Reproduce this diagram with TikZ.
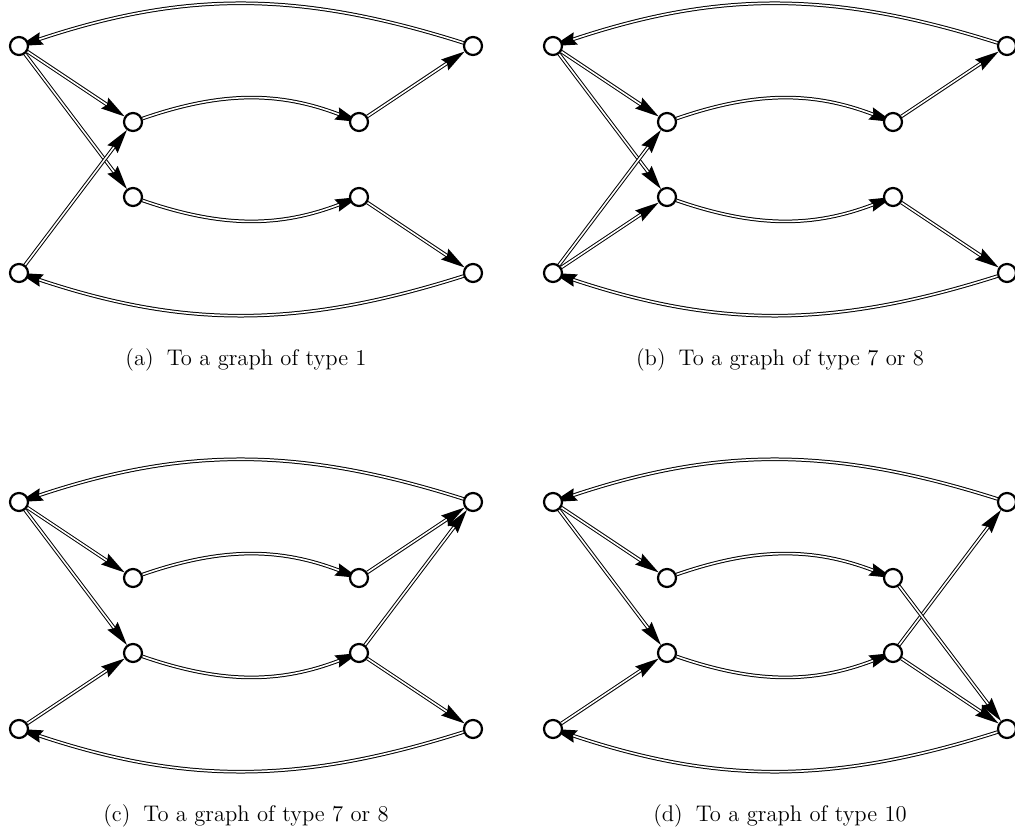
\documentclass[tikz,border=0pt]{standalone}
\usepackage{tikz}
\usetikzlibrary{arrows.meta}
\pgfdeclarelayer{edges}
\pgfsetlayers{edges,main}

\tikzset{
  vtx/.style={circle,draw,line width=1.1pt,fill=white,inner sep=0pt,minimum size=9pt},
  dbl/.style={double,line width=.5pt,double distance=.8pt,
    -{Stealth[length=12pt,width=6.5pt,inset=1.5pt,line width=0pt]}},
  captxt/.style={font=\fontsize{11.3}{14}\selectfont},
}
% the eight vertices and the edges every panel has
\newcommand\basegraph{
  \foreach \n/\x/\y in {tl/19/789,tr/473/789,ul/133/713,ur/359/713,
                        ll/133/638,lr/359/638,bl/19/562,br/473/562}
    \node[vtx] (\n) at (\x,\y) {};
  \begin{pgfonlayer}{edges}
    \draw[dbl] (tr) to[bend right=18] (tl);
    \draw[dbl] (br) to[bend left=18] (bl);
    \draw[dbl] (ul) to[bend left=20] (ur);
    \draw[dbl] (ll) to[bend right=20] (lr);
    \draw[dbl] (tl) -- (ul);
    \draw[dbl] (tl) -- (ll);
  \end{pgfonlayer}
}

\begin{document}
\begin{tikzpicture}[x=.5pt,y=.5pt]
  \useasboundingbox (0,0) rectangle (1015,835);
  \begin{scope}[name prefix=a-]
    \basegraph
    \begin{pgfonlayer}{edges}
      \foreach \s/\t in {bl/ul,ur/tr,lr/br}
        \draw[dbl] (\s) -- (\t);
    \end{pgfonlayer}
    \node[captxt] (cap) at (246,475) {(a)\hspace{6.5pt}To a graph of type 1};
  \end{scope}
  \begin{scope}[shift={(534,0)},name prefix=b-]
    \basegraph
    \begin{pgfonlayer}{edges}
      \foreach \s/\t in {bl/ul,bl/ll,ur/tr,lr/br}
        \draw[dbl] (\s) -- (\t);
    \end{pgfonlayer}
    \node[captxt] (cap) at (246,475) {(b)\hspace{6.5pt}To a graph of type 7 or 8};
  \end{scope}
  \begin{scope}[shift={(0,-456)},name prefix=c-]
    \basegraph
    \begin{pgfonlayer}{edges}
      \foreach \s/\t in {bl/ll,ur/tr,lr/tr,lr/br}
        \draw[dbl] (\s) -- (\t);
    \end{pgfonlayer}
    \node[captxt] (cap) at (246,475) {(c)\hspace{6.5pt}To a graph of type 7 or 8};
  \end{scope}
  \begin{scope}[shift={(534,-456)},name prefix=d-]
    \basegraph
    \begin{pgfonlayer}{edges}
      \foreach \s/\t in {bl/ll,lr/tr,ur/br,lr/br}
        \draw[dbl] (\s) -- (\t);
    \end{pgfonlayer}
    \node[captxt] (cap) at (246,475) {(d)\hspace{6.5pt}To a graph of type 10};
  \end{scope}
\end{tikzpicture}
\end{document}
